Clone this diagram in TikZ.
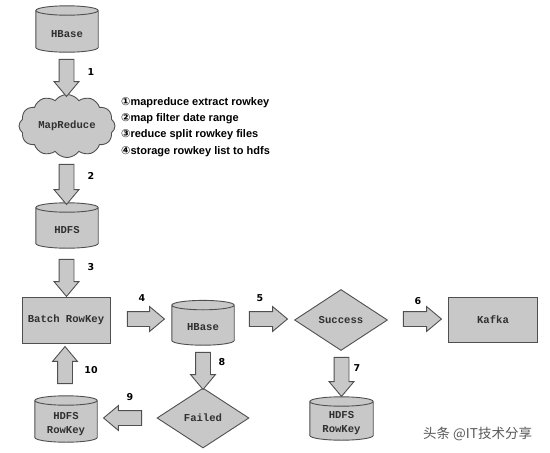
\documentclass[tikz,border=0pt]{standalone}
\usepackage{fontspec}
\setmainfont{Liberation Sans}
\setmonofont{Liberation Mono}
\newfontfamily\dejavu{DejaVu Sans}
\newfontfamily\cjk{Noto Sans CJK SC}
\usetikzlibrary{shapes.geometric,shapes.symbols,shapes.arrows,calc}
\pgfdeclarelayer{paper}
\pgfdeclarelayer{bg}
\pgfsetlayers{paper,bg,main}
\definecolor{boxfill}{HTML}{C8C8C8}
\definecolor{boxline}{HTML}{505050}
\definecolor{txt}{HTML}{303030}
\tikzset{
  base/.style={draw=boxline, fill=boxfill, line width=0.9pt, inner sep=0pt,
    font=\fontsize{10.6}{14}\ttfamily\bfseries, text=txt, align=center},
  dbbody/.style={rectangle, inner sep=0pt, font=\fontsize{10.6}{14}\ttfamily\bfseries, text=txt, align=center},
  cylline/.style={draw=boxline, fill=boxfill, line width=0.9pt},
  boxnode/.style={base, rectangle},
  cloudnode/.style={base, cloud, cloud puffs=12, cloud puff arc=110, aspect=1.5},
  decision/.style={base, diamond},
  blockarrow/.style={draw=boxline, fill=boxfill, line width=0.9pt, single arrow,
    inner xsep=0pt, inner ysep=7pt, single arrow head extend=5pt,
    single arrow tip angle=80, single arrow head indent=0pt, minimum width=0pt},
  numlbl/.style={font=\dejavu\bfseries\fontsize{9.5}{11}\selectfont, text=black, inner sep=0pt},
}
% cylinder drawn behind a body node: node covers the visible front body
\newcommand\cylbg[1]{%
  \begin{pgfonlayer}{bg}
  \path[cylline] let \p1=(#1.north west), \p2=(#1.south east), \n1={(\x2-\x1)/2} in
    ({\x1},{\y1+4.7pt}) -- ({\x1},{\y2+4.7pt})
    arc[start angle=180, end angle=360, x radius=\n1, y radius=4.7pt]
    -- ({\x2},{\y1+4.7pt})
    arc[start angle=0, end angle=180, x radius=\n1, y radius=4.7pt] -- cycle
    ({\x1},{\y1+4.7pt}) arc[start angle=180, end angle=360, x radius=\n1, y radius=4.7pt];
  \end{pgfonlayer}}
\begin{document}
\begin{tikzpicture}[x=1pt,y=-1pt]
\begin{pgfonlayer}{paper}
\fill[white] (0,0) rectangle (550,453);
\end{pgfonlayer}
\useasboundingbox (0,0) rectangle (550,453);
% nodes
\node[dbbody, minimum width=62, minimum height=36.6] (hb1) at (67,33.7) {HBase};
\cylbg{hb1}
\node[cloudnode, minimum width=96, minimum height=62] (mr) at (67,126) {MapReduce};
\node[dbbody, minimum width=62, minimum height=35.6] (hdfs) at (67,230.2) {HDFS};
\cylbg{hdfs}
\node[boxnode, minimum width=88, minimum height=46] (batch) at (66,320) {Batch RowKey};
\node[dbbody, minimum width=62, minimum height=35] (hb2) at (203,327.5) {HBase};
\cylbg{hb2}
\node[decision, minimum width=93, minimum height=61] (succ) at (341,320) {Success};
\node[boxnode, minimum width=89, minimum height=45] (kafka) at (493,320) {Kafka};
\node[decision, minimum width=92, minimum height=60] (failed) at (203,418) {Failed};
\node[dbbody, minimum width=62, minimum height=36.6] (hr1) at (66,423.7) {HDFS\\RowKey};
\cylbg{hr1}
\node[dbbody, minimum width=63, minimum height=33.6] (hr2) at (341.5,423.2) {HDFS\\RowKey};
\cylbg{hr2}
% text list
\node[anchor=west, align=left, inner sep=0pt, font=\bfseries\fontsize{11}{16.2}\selectfont] (list) at (121,127)
  {{\dejavu ①}mapreduce extract rowkey\\{\dejavu ②}map filter date range\\{\dejavu ③}reduce split rowkey files\\{\dejavu ④}storage rowkey list to hdfs};
% block arrows
\node[blockarrow, minimum height=37, rotate=270] (a1) at (66.5,73.5) {};
\node[blockarrow, minimum height=40, rotate=270] (a2) at (66.5,180) {};
\node[blockarrow, minimum height=37, rotate=270] (a3) at (66.5,273.5) {};
\node[blockarrow, minimum height=37] (a4) at (141.5,319) {};
\node[blockarrow, minimum height=38] (a5) at (264,319) {};
\node[blockarrow, minimum height=38] (a6) at (418,319) {};
\node[blockarrow, minimum height=39, rotate=270] (a7) at (341.5,372.5) {};
\node[blockarrow, minimum height=37, rotate=270] (a8) at (203,366.5) {};
\node[blockarrow, minimum height=38, rotate=180] (a9) at (127,418) {};
\node[blockarrow, minimum height=37, rotate=90] (a10) at (65,369.5) {};
% labels
\node[numlbl] (l1) at (91,72) {1};
\node[numlbl] (l2) at (91,176) {2};
\node[numlbl] (l3) at (91,267) {3};
\node[numlbl] (l4) at (142,298) {4};
\node[numlbl] (l5) at (260,298) {5};
\node[numlbl] (l6) at (418,301) {6};
\node[numlbl] (l7) at (357,368) {7};
\node[numlbl] (l8) at (222,362) {8};
\node[numlbl] (l9) at (130,397) {9};
\node[numlbl] (l10) at (91,370) {10};
% watermark
\node[anchor=west, inner sep=0pt, text=black!65, font=\cjk\fontsize{13.5}{15}\selectfont] (wm) at (423,434) {头条 @IT技术分享};
\end{tikzpicture}
\end{document}
